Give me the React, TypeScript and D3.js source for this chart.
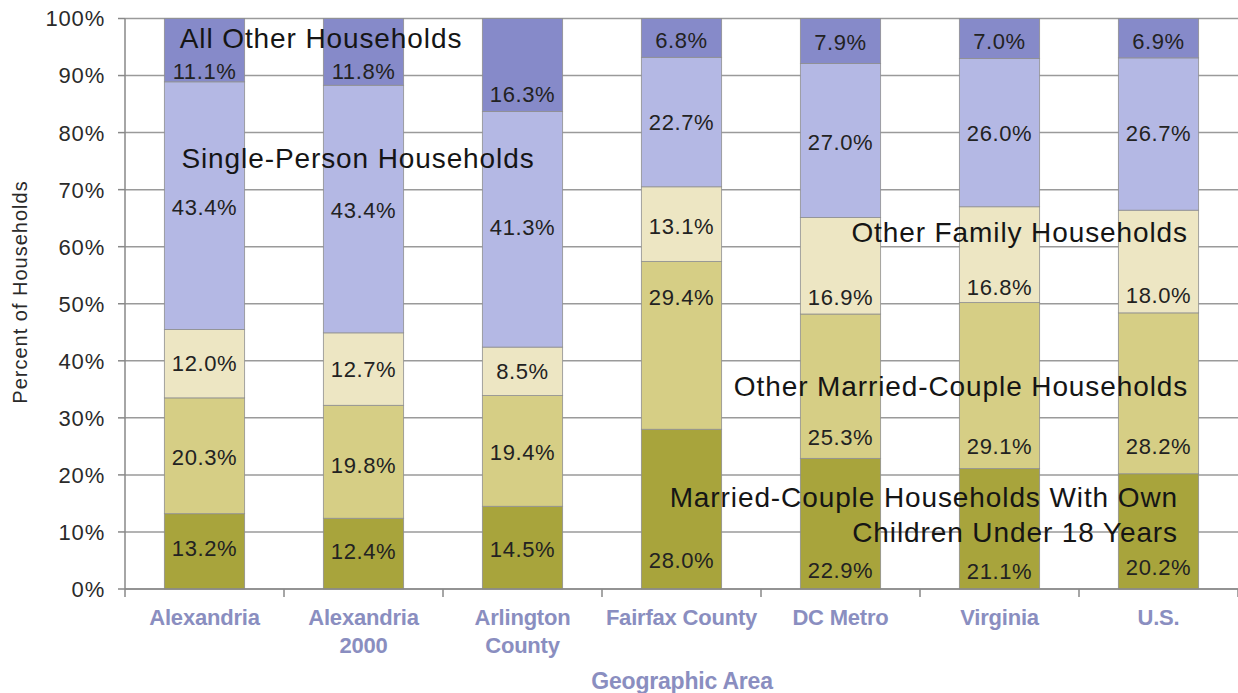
import React from "react";
import * as d3 from "d3";

const categories = ["Alexandria", "Alexandria 2000", "Arlington County", "Fairfax County", "DC Metro", "Virginia", "U.S."];
const categoryLines = [["Alexandria"], ["Alexandria", "2000"], ["Arlington", "County"], ["Fairfax County"], ["DC Metro"], ["Virginia"], ["U.S."]];

const seriesNames = [
  "Married-Couple Households With Own Children Under 18 Years",
  "Other Married-Couple Households",
  "Other Family Households",
  "Single-Person Households",
  "All Other Households",
];

const marriedWithChildren = [13.2, 12.4, 14.5, 28.0, 22.9, 21.1, 20.2];
const otherMarried = [20.3, 19.8, 19.4, 29.4, 25.3, 29.1, 28.2];
const otherFamily = [12.0, 12.7, 8.5, 13.1, 16.9, 16.8, 18.0];
const singlePerson = [43.4, 43.4, 41.3, 22.7, 27.0, 26.0, 26.7];
const allOther = [11.1, 11.8, 16.3, 6.8, 7.9, 7.0, 6.9];

// value-label anchor heights in percent units (as placed on the original)
const labelAtMarried = [7.2, 6.7, 7.0, 5.1, 3.3, 3.2, 3.9];
const labelAtOtherMarried = [23.2, 21.8, 24.0, 51.2, 26.7, 25.1, 25.1];
const labelAtOtherFamily = [39.6, 38.6, 38.2, 63.7, 51.1, 53.0, 51.6];
const labelAtSingle = [67.0, 66.5, 63.5, 81.8, 78.4, 80.0, 80.0];
const labelAtAllOther = [90.7, 90.7, 86.7, 96.3, 95.8, 96.0, 96.0];

const yTicks = [0, 10, 20, 30, 40, 50, 60, 70, 80, 90, 100];

const colors = ["#a8a43c", "#d6ce85", "#ede6c3", "#b4b8e4", "#868ac9"];

const W = 1238;
const H = 693;
const M = { left: 125, right: 1238, top: 18.5, bottom: 589 };
const FONT = "'Liberation Sans', Arial, sans-serif";

export default function App() {
  const x = d3.scaleBand<string>().domain(categories).range([M.left, M.right]).padding(0);
  const y = d3.scaleLinear().domain([0, 100]).range([M.bottom, M.top]);
  const bw = x.bandwidth() * 0.505;

  const seriesVals = [marriedWithChildren, otherMarried, otherFamily, singlePerson, allOther];
  const labelAts = [labelAtMarried, labelAtOtherMarried, labelAtOtherFamily, labelAtSingle, labelAtAllOther];

  const table = categories.map((c, i) => {
    const row: any = { cat: c };
    seriesNames.forEach((s, k) => (row[s] = seriesVals[k][i]));
    return row;
  });
  const stacked = d3.stack<any>().keys(seriesNames)(table);

  const boundaries = categories.map((c) => x(c) as number).concat([M.right]);

  return (
    <svg width={W} height={H} style={{ position: "absolute", left: 0, top: 0, background: "#fff" }} fontFamily={FONT}>
      {/* gridlines */}
      {yTicks.map((t) => (
        <line key={"g" + t} x1={M.left} x2={M.right} y1={y(t)} y2={y(t)} stroke="#9a9a9a" strokeWidth={1.5} />
      ))}
      {/* bars */}
      {stacked.map((layer, k) => (
        <g key={"s" + k}>
          {layer.map((d, i) => {
            const cx = (x(categories[i]) as number) + x.bandwidth() / 2;
            return (
              <rect
                key={i}
                x={cx - bw / 2}
                y={y(Math.min(d[1], 100))}
                width={bw}
                height={y(d[0]) - y(Math.min(d[1], 100))}
                fill={colors[k]}
                stroke="#8f8f8f"
                strokeWidth={0.8}
              />
            );
          })}
        </g>
      ))}
      {/* axes */}
      <line x1={M.left} x2={M.left} y1={M.top} y2={M.bottom} stroke="#888" strokeWidth={1.5} />
      <line x1={M.left} x2={M.right} y1={M.bottom} y2={M.bottom} stroke="#888" strokeWidth={1.5} />
      {yTicks.map((t) => (
        <g key={"yt" + t}>
          <line x1={M.left - 7} x2={M.left} y1={y(t)} y2={y(t)} stroke="#888" strokeWidth={1.5} />
          <text x={105} y={y(t)} dy="0.36em" textAnchor="end" fontSize={22} letterSpacing={0.8} fill="#2a2a2a">
            {t + "%"}
          </text>
        </g>
      ))}
      {boundaries.map((b, i) => (
        <line key={"xt" + i} x1={b} x2={b} y1={M.bottom} y2={M.bottom + 8} stroke="#888" strokeWidth={1.5} />
      ))}
      {/* x labels */}
      {categoryLines.map((lines, i) => {
        const cx = (x(categories[i]) as number) + x.bandwidth() / 2;
        return (
          <text key={"xl" + i} x={cx} y={625} textAnchor="middle" fontSize={22} fontWeight="bold" fill="#8a8ec0" letterSpacing={-0.2}>
            {lines.map((l, j) => (
              <tspan key={j} x={cx} dy={j === 0 ? 0 : 28}>
                {l}
              </tspan>
            ))}
          </text>
        );
      })}
      <text x={682} y={689} textAnchor="middle" fontSize={23} fontWeight="bold" fill="#8a8ec0" letterSpacing={-0.2}>
        Geographic Area
      </text>
      <text transform={`translate(27,292) rotate(-90)`} textAnchor="middle" fontSize={20} letterSpacing={1} fill="#2a2a2a">
        Percent of Households
      </text>
      {/* value labels */}
      {seriesVals.map((vals, k) =>
        vals.map((v, i) => {
          const cx = (x(categories[i]) as number) + x.bandwidth() / 2;
          return (
            <text key={`v${k}-${i}`} x={cx} y={y(labelAts[k][i])} dy="0.36em" textAnchor="middle" fontSize={22} letterSpacing={0.6} fill="#222">
              {v.toFixed(1) + "%"}
            </text>
          );
        })
      )}
      {/* series labels */}
      <g fontSize={28} letterSpacing={0.9} fill="#151515">
        <text x={321} y={38} dy="0.36em" textAnchor="middle">{seriesNames[4]}</text>
        <text x={358} y={158} dy="0.36em" textAnchor="middle">{seriesNames[3]}</text>
        <text x={1188} y={232} dy="0.36em" textAnchor="end">{seriesNames[2]}</text>
        <text x={961} y={386} dy="0.36em" textAnchor="middle">{seriesNames[1]}</text>
        <text x={1178} y={497} dy="0.36em" textAnchor="end">Married-Couple Households With Own</text>
        <text x={1178} y={532} dy="0.36em" textAnchor="end">Children Under 18 Years</text>
      </g>
    </svg>
  );
}
